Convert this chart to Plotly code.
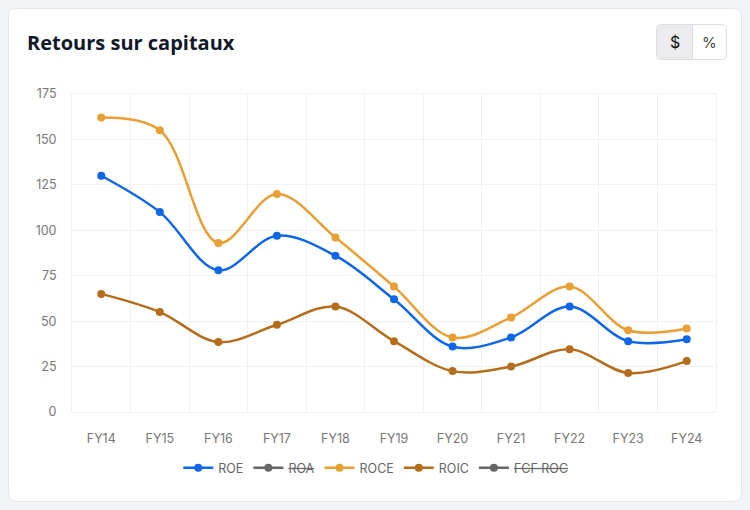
import plotly.graph_objects as go

categories = ["FY14", "FY15", "FY16", "FY17", "FY18", "FY19", "FY20", "FY21", "FY22", "FY23", "FY24"]
roe = [130, 110, 78, 97, 86, 62, 36, 41, 58, 39, 40]
roce = [162, 155, 93, 120, 96, 69, 41, 52, 69, 45, 46]
roic = [65, 55, 38.5, 48, 58, 39, 22.5, 25, 34.5, 21.5, 28]
# ROA and FCF ROC are toggled off in the reference (legend only, struck through)
roa = [None, None, None, None, None, None, None, None, None, None, None]
fcf_roc = [None, None, None, None, None, None, None, None, None, None, None]
y_ticks = [0, 25, 50, 75, 100, 125, 150, 175]

W, H = 750, 510
ML, MR, MT, MB = 72, 34, 94, 98
PW, PH = W - ML - MR, H - MT - MB


def px(x):
    return (x - ML) / PW


def py(y):
    return 1 - (y - MT) / PH


def rrect(x0, y0, x1, y1, r):
    d = []
    d.append(f"M {px(x0 + r)},{py(y0)}")
    d.append(f"L {px(x1 - r)},{py(y0)}")
    d.append(f"Q {px(x1)},{py(y0)} {px(x1)},{py(y0 + r)}")
    d.append(f"L {px(x1)},{py(y1 - r)}")
    d.append(f"Q {px(x1)},{py(y1)} {px(x1 - r)},{py(y1)}")
    d.append(f"L {px(x0 + r)},{py(y1)}")
    d.append(f"Q {px(x0)},{py(y1)} {px(x0)},{py(y1 - r)}")
    d.append(f"L {px(x0)},{py(y0 + r)}")
    d.append(f"Q {px(x0)},{py(y0)} {px(x0 + r)},{py(y0)}")
    d.append("Z")
    return " ".join(d)


fig = go.Figure()

series = [
    ("ROE", roe, "#0f66e6"),
    ("<s>ROA</s>", roa, "#666666"),
    ("ROCE", roce, "#e89f34"),
    ("ROIC", roic, "#b56d1c"),
    ("<s>FCF ROC</s>", fcf_roc, "#666666"),
]
for name, vals, col in series:
    fig.add_trace(go.Scatter(
        x=categories,
        y=vals,
        name=name,
        mode="lines+markers",
        line=dict(color=col, width=2.5, shape="spline", smoothing=1),
        marker=dict(color=col, size=8),
        cliponaxis=False,
    ))

shapes = [
    dict(type="path", xref="paper", yref="paper", path=rrect(8.5, 8.5, 741.5, 501.5, 8),
         fillcolor="white", line=dict(color="#e4e6eb", width=1), layer="below"),
    dict(type="path", xref="paper", yref="paper", path=rrect(656.5, 24.5, 726.5, 59.5, 4),
         fillcolor="white", line=dict(color="#dcdee3", width=1), layer="below"),
    dict(type="path", xref="paper", yref="paper",
         path=f"M {px(657)},{py(25)} L {px(692)},{py(25)} L {px(692)},{py(59)} L {px(661)},{py(59)} Q {px(657)},{py(59)} {px(657)},{py(55)} L {px(657)},{py(29)} Q {px(657)},{py(25)} {px(661)},{py(25)} Z",
         fillcolor="#ececee", line=dict(width=0), layer="below"),
    dict(type="line", xref="paper", yref="paper", x0=px(692.5), x1=px(692.5), y0=py(25), y1=py(59),
         line=dict(color="#dcdee3", width=1), layer="below"),
]

annotations = [
    dict(text="<b>Retours sur capitaux</b>", xref="paper", yref="paper", x=px(25), y=py(42),
         xanchor="left", yanchor="middle", showarrow=False,
         font=dict(family="Open Sans", size=20, color="#111827")),
    dict(text="$", xref="paper", yref="paper", x=px(674.5), y=py(42), xanchor="center", yanchor="middle",
         showarrow=False, font=dict(family="Inter", size=16, color="#111111")),
    dict(text="%", xref="paper", yref="paper", x=px(709.5), y=py(42), xanchor="center", yanchor="middle",
         showarrow=False, font=dict(family="Inter", size=15, color="#444444")),
]

fig.update_layout(
    width=W, height=H,
    margin=dict(l=ML, r=MR, t=MT, b=MB, autoexpand=False),
    paper_bgcolor="#f3f4f7",
    plot_bgcolor="rgba(0,0,0,0)",
    font=dict(family="Inter", size=12, color="#777777"),
    shapes=shapes,
    annotations=annotations,
    showlegend=True,
    legend=dict(orientation="h", xref="container", yref="container", x=0.501, y=1 - 468 / H,
                xanchor="center", yanchor="middle", itemwidth=30,
                font=dict(family="Inter", size=12.5, color="#666666"), bgcolor="rgba(0,0,0,0)"),
    xaxis=dict(type="category", categoryorder="array", categoryarray=categories,
               range=[-0.5, len(categories) - 0.5], tickson="boundaries", automargin=False,
               showgrid=True, gridcolor="#f0f1f3", gridwidth=1,
               showline=True, mirror=True, linecolor="#f0f1f3", linewidth=1,
               ticks="", ticklabelstandoff=15, zeroline=False,
               tickfont=dict(family="Inter", size=12.5, color="#777777")),
    yaxis=dict(range=[0, 175], tickvals=y_ticks, automargin=False,
               showgrid=True, gridcolor="#f0f1f3", gridwidth=1,
               showline=True, mirror=True, linecolor="#f0f1f3", linewidth=1,
               ticks="", ticklabelstandoff=12, zeroline=False,
               tickfont=dict(family="Inter", size=12.5, color="#777777")),
)

fig.write_html("out.html")
